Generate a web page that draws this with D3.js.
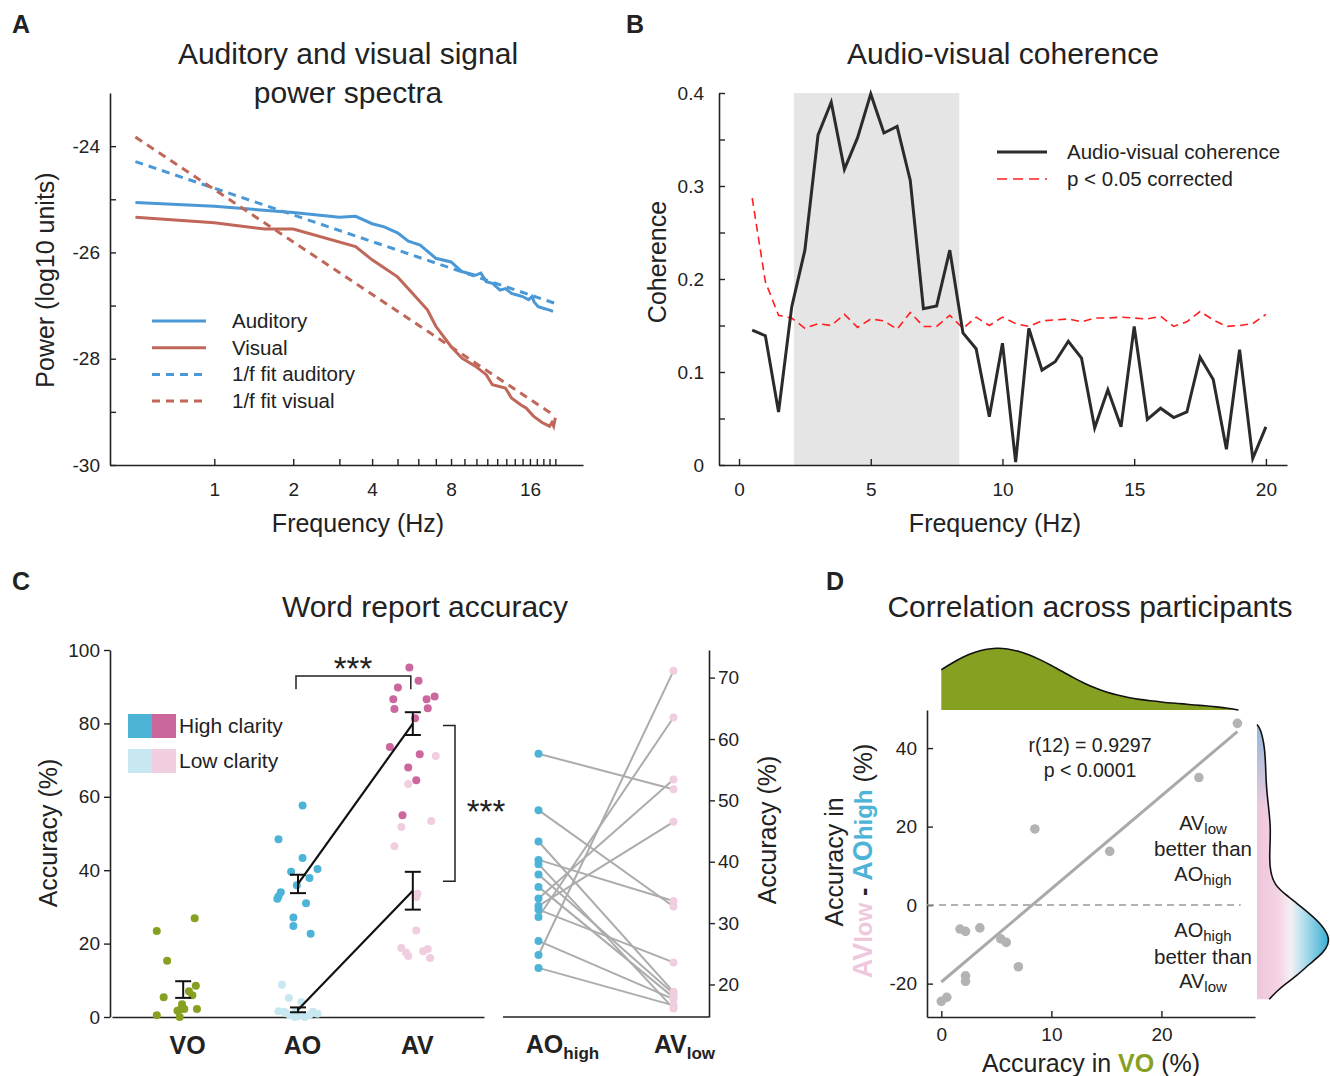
<!DOCTYPE html>
<html>
<head>
<meta charset="utf-8">
<script src="https://d3js.org/d3.v7.min.js"></script>
<style>
body { margin: 0; background: #fff; }
text { font-family: "Liberation Sans", Arial, sans-serif; fill: #222; }
</style>
</head>
<body>
<svg id="fig" width="1330" height="1076"></svg>
<script>
// ---------- data ----------
// A: power spectra (log10 units)
const audFreq  = [0.5, 1, 2, 3, 3.46, 4, 4.45, 5, 5.5, 6.1, 7, 8, 8.8, 9.9, 10.4, 10.9, 11.5, 12.3, 12.9, 13.6, 14.3, 15.0, 15.8, 16.3, 16.6, 17.2, 18.0, 18.9, 19.6]
const audPower = [-25.06, -25.13, -25.25, -25.34, -25.32, -25.46, -25.52, -25.63, -25.79, -25.86, -26.11, -26.18, -26.36, -26.43, -26.39, -26.55, -26.58, -26.71, -26.68, -26.77, -26.8, -26.83, -26.89, -26.83, -26.93, -27.02, -27.05, -27.08, -27.11]
const visFreq  = [0.5, 1, 1.56, 2, 3.46, 4, 5, 5.7, 6.5, 7, 8, 8.8, 9.9, 10.9, 11.5, 12.9, 13.6, 14.7, 15.5, 16.5, 17.8, 19, 19.4, 19.7, 20]
const visPower = [-25.34, -25.44, -25.56, -25.56, -25.89, -26.14, -26.46, -26.77, -27.08, -27.39, -27.77, -27.99, -28.14, -28.3, -28.49, -28.55, -28.74, -28.86, -28.93, -29.08, -29.2, -29.27, -29.2, -29.27, -29.11]
const fitFreq  = [0.5, 20]
const fitAud   = [-24.29, -26.96]
const fitVis   = [-23.83, -29.08]
const specTicks = [1, 2, 4, 8, 16]

// B: coherence
const cohFreq = d3.range(1, 41).map(i => i / 2)
const coherence = [0.145, 0.139, 0.057, 0.170, 0.231, 0.355, 0.390, 0.318, 0.352, 0.399,
  0.357, 0.364, 0.306, 0.168, 0.171, 0.231, 0.142, 0.125, 0.052, 0.131,
  0.003, 0.147, 0.102, 0.111, 0.133, 0.115, 0.040, 0.081, 0.041, 0.149,
  0.049, 0.061, 0.051, 0.057, 0.116, 0.092, 0.017, 0.124, 0.007, 0.041]
const threshold = [0.287, 0.197, 0.161, 0.158, 0.147, 0.152, 0.150, 0.162, 0.148, 0.157,
  0.155, 0.146, 0.164, 0.149, 0.149, 0.161, 0.147, 0.159, 0.150, 0.159,
  0.152, 0.149, 0.155, 0.156, 0.157, 0.154, 0.158, 0.158, 0.159, 0.158,
  0.157, 0.160, 0.149, 0.154, 0.165, 0.156, 0.149, 0.150, 0.152, 0.162]
const thetaBand = [2.08, 8.36]

// C / D: per participant accuracy (%)
const conds  = ["VO", "AO", "AV"]
const vo     = [3.5, 7.0, 0.0, 2.2, 0.5, 2.2, 2.2, 8.5, 15.3, 5.4, 23.4, 5.9, 26.9, 1.7]
const aoHigh = [57.6, 48.4, 43.3, 40.3, 39.6, 37.9, 35.9, 34.0, 32.8, 32.2, 31.0, 27.1, 24.8, 22.7]
const aoLow  = [8.8, 5.2, 4.1, 1.6, 1.4, 1.4, 0.9, 0.5, 0.2, 0, 0, 1.0, 0.6, 1.6]
const avHigh = [95.2, 91.6, 89.8, 86.6, 86.6, 87.3, 83.9, 84.1, 81.4, 73.6, 71.6, 68.0, 64.5, 55.0]
const avLow  = [51.8, 32.7, 18.8, 33.6, 16.1, 18.5, 17.9, 53.4, 46.5, 23.6, 63.5, 17.6, 71.1, 16.6]
// horizontal jitter of the dots, in category steps
const jitVO  = [-0.01, 0.05, -0.03, 0.12, -0.23, -0.02, 0.01, 0.11, -0.14, -0.17, -0.23, 0.08, 0.10, -0.05]
const jitAOh = [0.04, -0.17, 0.04, 0.17, -0.06, 0.10, -0.01, -0.15, -0.17, -0.18, 0.07, -0.04, -0.04, 0.11]
const jitAOl = [-0.14, -0.08, 0.03, -0.17, -0.12, 0.13, 0.17, -0.07, 0, -0.03, 0.06, -0.10, 0.10, -0.02]
const jitAVh = [-0.03, 0.05, -0.13, -0.17, 0.12, 0.19, -0.16, 0.13, 0.02, -0.2, 0.06, -0.04, 0.03, -0.09]
const jitAVl = [-0.10, 0.03, -0.10, 0.04, 0.15, 0.13, 0.09, 0.16, -0.16, 0.03, -0.04, -0.06, 0.2, -0.04]

// D: marginal densities (relative height)
const densVOx = d3.range(0, 28)
const densVO  = [.65, .76, .86, .93, .98, 1, .99, .95, .89, .81, .72, .62, .52, .43, .35, .29, .24, .2, .17, .15, .13, .11, .1, .08, .07, .05, .03, 0]
const densDiffY = [46, 45, 40, 35, 30, 25, 20, 15, 10, 5, 2, 0, -2, -5, -8, -10, -12, -15, -18, -20, -22, -24]
const densDiff  = [0, .05, .11, .12, .13, .16, .19, .18, .17, .23, .45, .58, .72, .9, 1, .99, .93, .73, .55, .4, .27, .17]

// ---------- colours ----------
const cAud = "#4a98d6", cVis = "#c0675a", cGreen = "#86a021"
const cAOh = "#4db4d8", cAOl = "#c7e8f1", cAVh = "#cc679d", cAVl = "#f1cde0"

const TITLE = 30, AXLAB = 25, TICK = 19, LEG = 20.5

const svg = d3.select("#fig")
svg.append("rect").attr("width", 1330).attr("height", 1076).attr("fill", "#fff")

function label(x, y, s, size, o = {}) {
  const t = svg.append("text")
    .attr("x", o.rot ? 0 : x).attr("y", o.rot ? 0 : y)
    .attr("font-size", size)
    .attr("text-anchor", o.anchor || "middle")
    .attr("font-weight", o.bold ? "bold" : null)
  if (s !== null) t.text(s)
  if (o.rot) t.attr("transform", `translate(${x},${y}) rotate(-90)`)
  return t
}

function axisStyle(g, size) {
  g.attr("font-family", null).attr("font-size", size || TICK)
  g.select(".domain").attr("stroke", "#222").attr("stroke-width", 1.6)
  g.selectAll(".tick line").attr("stroke", "#222").attr("stroke-width", 1.4)
  g.selectAll(".tick text").attr("fill", "#222")
}

// panel letters
label(12, 33, "A", 25, { anchor: "start", bold: true })
label(626, 33, "B", 25, { anchor: "start", bold: true })
label(12, 590, "C", 25, { anchor: "start", bold: true })
label(826, 590, "D", 25, { anchor: "start", bold: true })

// ================= A =================
const xA = d3.scaleLog().domain([0.4, 25.5]).range([110, 583])
const yA = d3.scaleLinear().domain([-30, -23]).range([465, 93])

svg.append("g").attr("transform", "translate(0,465)")
  .call(d3.axisBottom(xA).tickValues(d3.range(1, 21)).tickSizeInner(-6).tickSizeOuter(0).tickPadding(18)
    .tickFormat(d => specTicks.includes(d) ? d : ""))
  .call(axisStyle)
svg.append("g").attr("transform", "translate(110,0)")
  .call(d3.axisLeft(yA).tickValues(d3.range(-30, -23)).tickSizeInner(-6).tickSizeOuter(0).tickPadding(10)
    .tickFormat(d => d % 2 === 0 ? String(d) : ""))
  .call(axisStyle)

const lineA = d3.line().x(d => xA(d[0])).y(d => yA(d[1]))
const specSeries = [
  { f: audFreq, p: audPower, c: cAud, dash: null },
  { f: visFreq, p: visPower, c: cVis, dash: null },
  { f: fitFreq, p: fitAud, c: cAud, dash: "8,6" },
  { f: fitFreq, p: fitVis, c: cVis, dash: "8,6" }
]
specSeries.forEach(s => {
  svg.append("path").datum(d3.zip(s.f, s.p)).attr("d", lineA)
    .attr("fill", "none").attr("stroke", s.c).attr("stroke-width", 3)
    .attr("stroke-dasharray", s.dash)
})
const legA = ["Auditory", "Visual", "1/f fit auditory", "1/f fit visual"]
legA.forEach((t, i) => {
  const y = 321 + i * 26.7
  svg.append("line").attr("x1", 152).attr("x2", 206).attr("y1", y).attr("y2", y)
    .attr("stroke", specSeries[i].c).attr("stroke-width", 3).attr("stroke-dasharray", specSeries[i].dash)
  label(232, y + 7, t, LEG, { anchor: "start" })
})
label(348, 64, "Auditory and visual signal", TITLE)
label(348, 103, "power spectra", TITLE)
label(54, 280, "Power (log10 units)", AXLAB, { rot: true })
label(358, 532, "Frequency (Hz)", AXLAB)

// ================= B =================
const xB = d3.scaleLinear().domain([-0.76, 20.8]).range([719, 1287])
const yB = d3.scaleLinear().domain([0, 0.4]).range([465, 93])

svg.append("rect").attr("x", xB(thetaBand[0])).attr("width", xB(thetaBand[1]) - xB(thetaBand[0]))
  .attr("y", yB(0.4)).attr("height", yB(0) - yB(0.4)).attr("fill", "#e5e5e5")

svg.append("g").attr("transform", "translate(0,465)")
  .call(d3.axisBottom(xB).tickValues([0, 5, 10, 15, 20]).tickSizeInner(-6).tickSizeOuter(0).tickPadding(18))
  .call(axisStyle)
svg.append("g").attr("transform", "translate(719,0)")
  .call(d3.axisLeft(yB).tickValues(d3.range(0, 9).map(i => i * 0.05)).tickSizeInner(-6).tickSizeOuter(0).tickPadding(15)
    .tickFormat(d => {
      const k = Math.round(d * 100)
      return k % 10 === 0 ? (k === 0 ? "0" : (k / 100).toFixed(1)) : ""
    }))
  .call(axisStyle)

const lineB = d3.line().x(d => xB(d[0])).y(d => yB(d[1]))
svg.append("path").datum(d3.zip(cohFreq, threshold)).attr("d", lineB)
  .attr("fill", "none").attr("stroke", "#ff1f1f").attr("stroke-width", 1.6).attr("stroke-dasharray", "8,5")
svg.append("path").datum(d3.zip(cohFreq, coherence)).attr("d", lineB)
  .attr("fill", "none").attr("stroke", "#2b2b2b").attr("stroke-width", 3).attr("stroke-linejoin", "miter")

svg.append("line").attr("x1", 997).attr("x2", 1047).attr("y1", 152).attr("y2", 152)
  .attr("stroke", "#2b2b2b").attr("stroke-width", 3)
svg.append("line").attr("x1", 997).attr("x2", 1047).attr("y1", 179).attr("y2", 179)
  .attr("stroke", "#ff1f1f").attr("stroke-width", 1.6).attr("stroke-dasharray", "10,6")
label(1067, 159, "Audio-visual coherence", LEG, { anchor: "start" })
label(1067, 186, "p < 0.05 corrected", LEG, { anchor: "start" })
label(1003, 64, "Audio-visual coherence", TITLE)
label(666, 262, "Coherence", AXLAB, { rot: true })
label(995, 532, "Frequency (Hz)", AXLAB)

// ================= C (left) =================
const xC = d3.scalePoint().domain(conds).range([112, 484]).padding(0.62)
const yC = d3.scaleLinear().domain([0, 100]).range([1017, 650])
const stepC = xC.step()

svg.append("g").attr("transform", "translate(0,1017)")
  .call(d3.axisBottom(xC).tickSize(0).tickPadding(19))
  .call(axisStyle, 25)
  .call(g => g.selectAll(".tick text").attr("font-weight", "bold").attr("dx", 4))
svg.append("g").attr("transform", "translate(110,0)")
  .call(d3.axisLeft(yC).tickValues(d3.range(0, 101, 20)).tickSizeInner(6).tickSizeOuter(0).tickPadding(4))
  .call(axisStyle)

function dots(vals, jit, cond, color) {
  svg.append("g").selectAll("circle").data(vals).join("circle")
    .attr("cx", (d, i) => xC(cond) + jit[i] * stepC)
    .attr("cy", d => yC(d)).attr("r", 4).attr("fill", color)
}
dots(aoLow, jitAOl, "AO", cAOl)
dots(avLow, jitAVl, "AV", cAVl)
dots(vo, jitVO, "VO", cGreen)
dots(aoHigh, jitAOh, "AO", cAOh)
dots(avHigh, jitAVh, "AV", cAVh)

const sem = v => d3.deviation(v) / Math.sqrt(v.length)
const summary = [
  { c: "VO", v: vo }, { c: "AO", v: aoHigh }, { c: "AO", v: aoLow },
  { c: "AV", v: avHigh }, { c: "AV", v: avLow }
].map(s => ({ c: s.c, m: d3.mean(s.v), e: sem(s.v) }))

// lines between means
;[[1, 3], [2, 4]].forEach(([a, b]) => {
  svg.append("line")
    .attr("x1", xC(summary[a].c)).attr("y1", yC(summary[a].m))
    .attr("x2", xC(summary[b].c)).attr("y2", yC(summary[b].m))
    .attr("stroke", "#111").attr("stroke-width", 2.2)
})
summary.forEach(s => {
  const x = xC(s.c), g = svg.append("g").attr("stroke", "#111").attr("stroke-width", 2)
  g.append("line").attr("x1", x).attr("x2", x).attr("y1", yC(s.m - s.e)).attr("y2", yC(s.m + s.e))
  ;[s.m - s.e, s.m + s.e].forEach(v => g.append("line").attr("x1", x - 8).attr("x2", x + 8).attr("y1", yC(v)).attr("y2", yC(v)))
})

// significance brackets
svg.append("path").attr("fill", "none").attr("stroke", "#222").attr("stroke-width", 1.5)
  .attr("d", `M${xC("AO") - 2},${yC(89.3)}V${yC(92.9)}H${xC("AV") - 2}V${yC(89.3)}`)
label(353, 680, "***", 33)
svg.append("path").attr("fill", "none").attr("stroke", "#222").attr("stroke-width", 1.5)
  .attr("d", `M443,${yC(79.4)}H455V${yC(37)}H443`)
label(486, 823, "***", 33)

// legend
svg.append("rect").attr("x", 128).attr("y", 714).attr("width", 24).attr("height", 24).attr("fill", cAOh)
svg.append("rect").attr("x", 152).attr("y", 714).attr("width", 24).attr("height", 24).attr("fill", cAVh)
svg.append("rect").attr("x", 128).attr("y", 749).attr("width", 24).attr("height", 24).attr("fill", cAOl)
svg.append("rect").attr("x", 152).attr("y", 749).attr("width", 24).attr("height", 24).attr("fill", cAVl)
label(179, 733, "High clarity", 21, { anchor: "start" })
label(179, 768, "Low clarity", 21, { anchor: "start" })

label(425, 617, "Word report accuracy", TITLE)
label(57, 833, "Accuracy (%)", AXLAB, { rot: true })

// ================= C (right) =================
const xR = d3.scalePoint().domain(["AOhigh", "AVlow"]).range([503, 709]).padding(0.263)
const yR = d3.scaleLinear().domain([14.7, 74.5]).range([1017, 650])

svg.append("line").attr("x1", 503).attr("x2", 709).attr("y1", 1017).attr("y2", 1017)
  .attr("stroke", "#222").attr("stroke-width", 1.6)
svg.append("g").attr("transform", "translate(709,0)")
  .call(d3.axisRight(yR).tickValues(d3.range(20, 71, 10)).tickSizeInner(6).tickSizeOuter(0).tickPadding(3))
  .call(axisStyle)

svg.append("g").selectAll("line").data(d3.zip(aoHigh, avLow)).join("line")
  .attr("x1", xR("AOhigh")).attr("x2", xR("AVlow"))
  .attr("y1", d => yR(d[0])).attr("y2", d => yR(d[1]))
  .attr("stroke", "#acacac").attr("stroke-width", 2)
svg.append("g").selectAll("circle").data(aoHigh).join("circle")
  .attr("cx", xR("AOhigh")).attr("cy", d => yR(d)).attr("r", 4).attr("fill", cAOh)
svg.append("g").selectAll("circle").data(avLow).join("circle")
  .attr("cx", xR("AVlow")).attr("cy", d => yR(d)).attr("r", 4).attr("fill", cAVl)

function subLabel(x, y, main, sub, size, subSize, bold) {
  const t = label(x, y, null, size, { bold: bold })
  t.append("tspan").text(main)
  t.append("tspan").attr("font-size", subSize).attr("dy", size * 0.22).text(sub)
  return t
}
subLabel(xR("AOhigh") + 24, 1053, "AO", "high", 25, 17, true)
subLabel(xR("AVlow") + 11, 1053, "AV", "low", 25, 17, true)
label(776, 830, "Accuracy (%)", AXLAB, { rot: true })

// ================= D =================
const xD = d3.scaleLinear().domain([-1.3, 28.5]).range([927, 1255])
const yD = d3.scaleLinear().domain([-28.5, 49.7]).range([1017, 710])
const diff = avLow.map((v, i) => v - aoHigh[i])

// top marginal density
const hTop = d3.scaleLinear().domain([0, 1]).range([710, 648])
svg.append("path").datum(d3.zip(densVOx, densVO))
  .attr("d", d3.area().x(d => xD(d[0])).y0(hTop(0)).y1(d => hTop(d[1])).curve(d3.curveBasis))
  .attr("fill", cGreen)
svg.append("path").datum(d3.zip(densVOx, densVO))
  .attr("d", d3.line().x(d => xD(d[0])).y(d => hTop(d[1])).curve(d3.curveBasis))
  .attr("fill", "none").attr("stroke", "#111").attr("stroke-width", 1.6)

// right marginal density with gradient fill
const defs = svg.append("defs")
const gH = defs.append("linearGradient").attr("id", "gradH").attr("x1", 0).attr("x2", 1).attr("y1", 0).attr("y2", 0)
;[[0, "#efc6dc"], [0.3, "#f3d3e4"], [0.47, "#f6eef3"], [0.62, "#bfe3ef"], [1, "#3aaed3"]]
  .forEach(s => gH.append("stop").attr("offset", s[0]).attr("stop-color", s[1]))
const gV = defs.append("linearGradient").attr("id", "gradV").attr("x1", 0).attr("x2", 0).attr("y1", 0).attr("y2", 1)
;[[0, "#6fb6d8", 0.75], [0.3, "#6fb6d8", 0]]
  .forEach(s => gV.append("stop").attr("offset", s[0]).attr("stop-color", s[1]).attr("stop-opacity", s[2]))
const wRight = d3.scaleLinear().domain([0, 1]).range([1257, 1329])
const rData = d3.zip(densDiffY, densDiff)
const rArea = d3.area().y(d => yD(d[0])).x0(wRight(0)).x1(d => wRight(d[1])).curve(d3.curveBasis)
svg.append("path").datum(rData).attr("d", rArea).attr("fill", "url(#gradH)")
svg.append("path").datum(rData).attr("d", rArea).attr("fill", "url(#gradV)")
svg.append("path").datum(rData)
  .attr("d", d3.line().y(d => yD(d[0])).x(d => wRight(d[1])).curve(d3.curveBasis))
  .attr("fill", "none").attr("stroke", "#111").attr("stroke-width", 1.6)

svg.append("g").attr("transform", "translate(0,1017)")
  .call(d3.axisBottom(xD).tickValues([0, 10, 20]).tickSizeInner(-6).tickSizeOuter(0).tickPadding(11))
  .call(axisStyle)
svg.append("g").attr("transform", "translate(927,0)")
  .call(d3.axisLeft(yD).tickValues([-20, 0, 20, 40]).tickSizeInner(-6).tickSizeOuter(0).tickPadding(10)
    .tickFormat(d => String(d)))
  .call(axisStyle)

svg.append("line").attr("x1", xD(-1.3)).attr("x2", xD(27.2)).attr("y1", yD(0)).attr("y2", yD(0))
  .attr("stroke", "#999").attr("stroke-width", 1.5).attr("stroke-dasharray", "7,5")

// regression line
const mx = d3.mean(vo), my = d3.mean(diff)
const slope = d3.sum(vo.map((x, i) => (x - mx) * (diff[i] - my))) / d3.sum(vo.map(x => (x - mx) ** 2))
const xr = d3.extent(vo)
svg.append("line")
  .attr("x1", xD(xr[0])).attr("y1", yD(my + slope * (xr[0] - mx)))
  .attr("x2", xD(xr[1])).attr("y2", yD(my + slope * (xr[1] - mx)))
  .attr("stroke", "#a9a9a9").attr("stroke-width", 3)

svg.append("g").selectAll("circle").data(d3.zip(vo, diff)).join("circle")
  .attr("cx", d => xD(d[0])).attr("cy", d => yD(d[1])).attr("r", 4.8).attr("fill", "#b3b3b3")

label(1090, 752, "r(12) = 0.9297", 19.5)
label(1090, 777, "p < 0.0001", 19.5)
subLabel(1203, 830, "AV", "low", 20, 15)
label(1203, 856, "better than", 20.5)
subLabel(1203, 881, "AO", "high", 20, 15)
subLabel(1203, 937, "AO", "high", 20, 15)
label(1203, 964, "better than", 20.5)
subLabel(1203, 988, "AV", "low", 20, 15)

label(1090, 617, "Correlation across participants", TITLE)

label(843, 862, "Accuracy in", AXLAB, { rot: true })
const yl2 = label(872, 861, null, 25, { rot: true })
yl2.append("tspan").attr("font-weight", "bold").attr("font-size", 27).style("fill", "#f0c8dd").text("AV")
yl2.append("tspan").attr("font-weight", "bold").attr("font-size", 24).style("fill", "#f0c8dd").text("low")
yl2.append("tspan").attr("font-weight", "bold").text(" - ")
yl2.append("tspan").attr("font-weight", "bold").attr("font-size", 27).style("fill", cAOh).text("AO")
yl2.append("tspan").attr("font-weight", "bold").attr("font-size", 24).style("fill", cAOh).text("high")
yl2.append("tspan").text(" (%)")

const xl = label(1091, 1072, null, AXLAB)
xl.append("tspan").text("Accuracy in ")
xl.append("tspan").attr("font-weight", "bold").style("fill", cGreen).text("VO")
xl.append("tspan").text(" (%)")
</script>
</body>
</html>
